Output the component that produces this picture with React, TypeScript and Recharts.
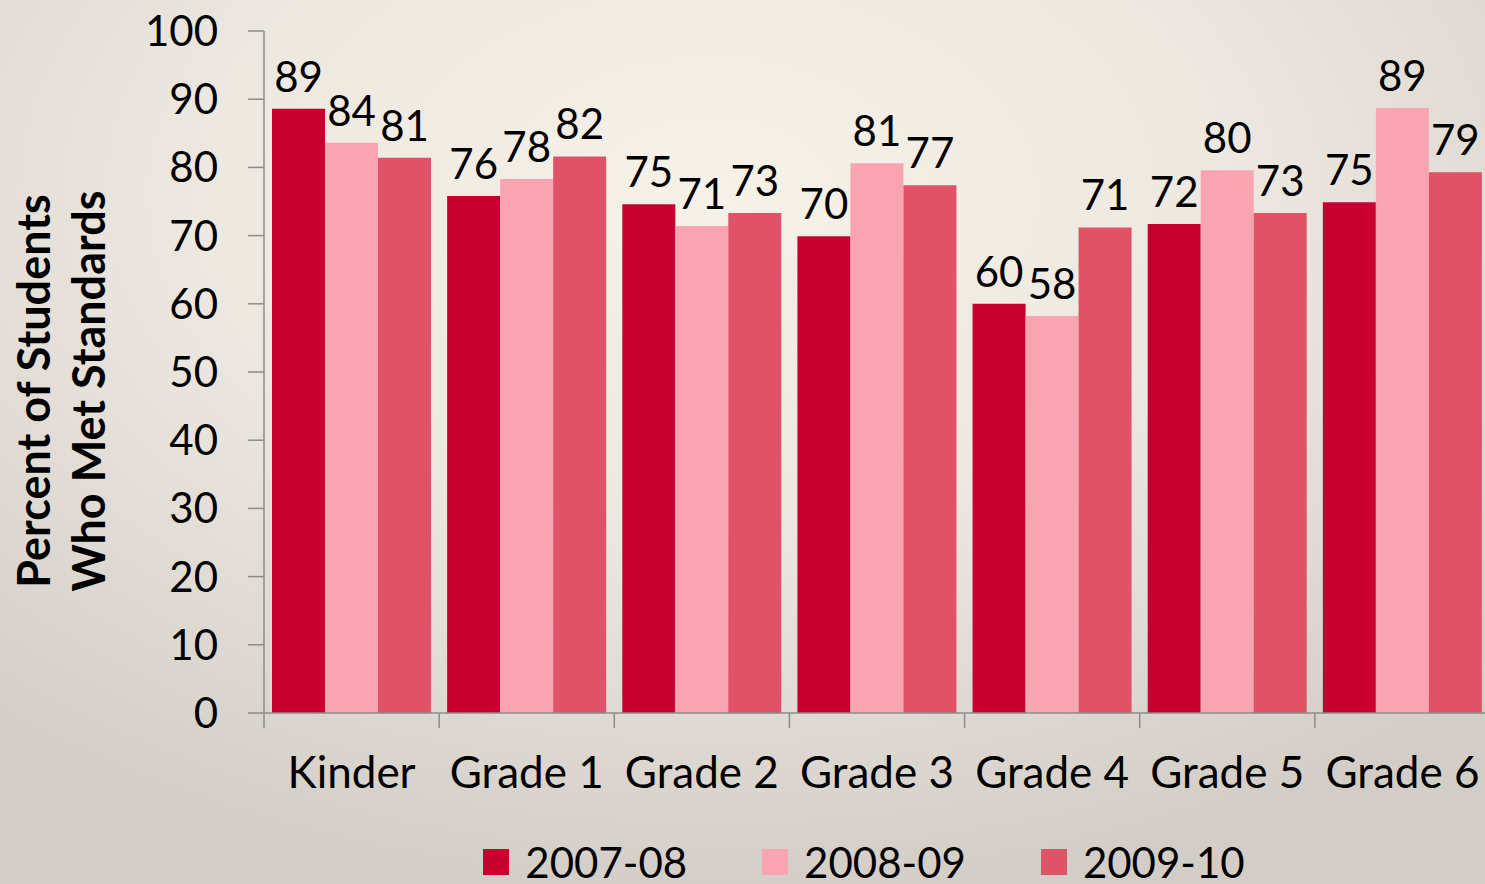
import React from "react";
import {
  BarChart,
  Bar,
  XAxis,
  YAxis,
  LabelList,
  Legend,
} from "recharts";

const grades = ["Kinder", "Grade 1", "Grade 2", "Grade 3", "Grade 4", "Grade 5", "Grade 6"];
const y2007 = [88.6, 75.8, 74.6, 69.9, 60.0, 71.7, 74.9];
const y2008 = [83.6, 78.3, 71.4, 80.6, 58.2, 79.6, 88.7];
const y2009 = [81.4, 81.6, 73.3, 77.4, 71.2, 73.3, 79.3];
const seriesNames = ["2007-08", "2008-09", "2009-10"];
const seriesColors = ["#C70030", "#F8A4B1", "#DF5268"];
const yTicks = [0, 10, 20, 30, 40, 50, 60, 70, 80, 90, 100];

const data = grades.map((g, i) => ({
  grade: g,
  s0: y2007[i],
  s1: y2008[i],
  s2: y2009[i],
}));

const FONT = "Lato, 'Open Sans', sans-serif";
const AXIS = "#8C8C8C";
const CHART_W = 1490;
const Y_W = 264;
const X_MARGIN = 44;
const BAND = (CHART_W - Y_W) / grades.length;

// category label plus a tick mark on the left edge of its band (Excel style)
const CatTick = (props: any) => {
  const { x, y, payload } = props;
  const axisY = y - X_MARGIN;
  return (
    <g>
      <line
        x1={x - BAND / 2}
        x2={x - BAND / 2}
        y1={axisY}
        y2={axisY + 15}
        stroke={AXIS}
        strokeWidth={1.5}
      />
      <text
        x={x}
        y={y}
        dy="0.71em"
        textAnchor="middle"
        fontFamily={FONT}
        fontSize={44}
        fill="#000"
      >
        {payload.value}
      </text>
    </g>
  );
};

const YTitle = () => (
  <g fontFamily={FONT} fontWeight={700} fontSize={45} fill="#000">
    <text
      transform="translate(33, 391) rotate(-90)"
      textAnchor="middle"
      dominantBaseline="central"
    >
      Percent of Students
    </text>
    <text
      transform="translate(88, 391) rotate(-90)"
      textAnchor="middle"
      dominantBaseline="central"
    >
      Who Met Standards
    </text>
  </g>
);

const LegendBox = () => (
  <div
    style={{
      height: 56,
      boxSizing: "border-box",
      paddingTop: 12,
      paddingLeft: 238,
      display: "flex",
      justifyContent: "center",
      alignItems: "center",
      fontFamily: FONT,
      fontSize: 42,
      color: "#000",
    }}
  >
    {seriesNames.map((n, i) => (
      <div
        key={n}
        style={{
          display: "flex",
          alignItems: "center",
          marginRight: i < seriesNames.length - 1 ? 75 : 0,
          lineHeight: "36px",
        }}
      >
        <span
          style={{
            width: 26,
            height: 26,
            background: seriesColors[i],
            display: "inline-block",
            marginRight: 16,
          }}
        />
        <span>{n}</span>
      </div>
    ))}
  </div>
);

export default function App() {
  return (
    <div
      style={{
        position: "absolute",
        left: 0,
        top: 0,
        width: 1485,
        height: 884,
        overflow: "hidden",
        background:
          "radial-gradient(ellipse 75% 80% at 48% 22%, #F7F2E8 0%, #EDE8E0 45%, #D2CEC7 100%)",
      }}
    >
      <BarChart
        width={CHART_W}
        height={884}
        data={data}
        margin={{ top: 31, right: 0, left: 0, bottom: 0 }}
        barCategoryGap={8}
        barGap={0}
      >
        <XAxis
          dataKey="grade"
          height={115}
          tickLine={false}
          tickSize={0}
          tickMargin={X_MARGIN}
          axisLine={{ stroke: AXIS, strokeWidth: 1.5 }}
          tick={<CatTick />}
          interval={0}
        />
        <YAxis
          width={Y_W}
          domain={[0, 100]}
          ticks={yTicks}
          interval={0}
          tickSize={16}
          tickMargin={30}
          axisLine={{ stroke: AXIS, strokeWidth: 1.5 }}
          tickLine={{ stroke: AXIS, strokeWidth: 1.5 }}
          tick={{ fontFamily: FONT, fontSize: 42, fill: "#000" }}
          label={{ content: () => <YTitle /> }}
        />
        <Legend verticalAlign="bottom" content={() => <LegendBox />} />
        {["s0", "s1", "s2"].map((k, i) => (
          <Bar
            key={k}
            dataKey={k}
            name={seriesNames[i]}
            fill={seriesColors[i]}
            isAnimationActive={false}
          >
            <LabelList
              dataKey={k}
              position="top"
              offset={17}
              formatter={(v: number) => Math.round(v)}
              style={{ fontFamily: FONT, fontSize: 42, fill: "#000" }}
            />
          </Bar>
        ))}
      </BarChart>
    </div>
  );
}
